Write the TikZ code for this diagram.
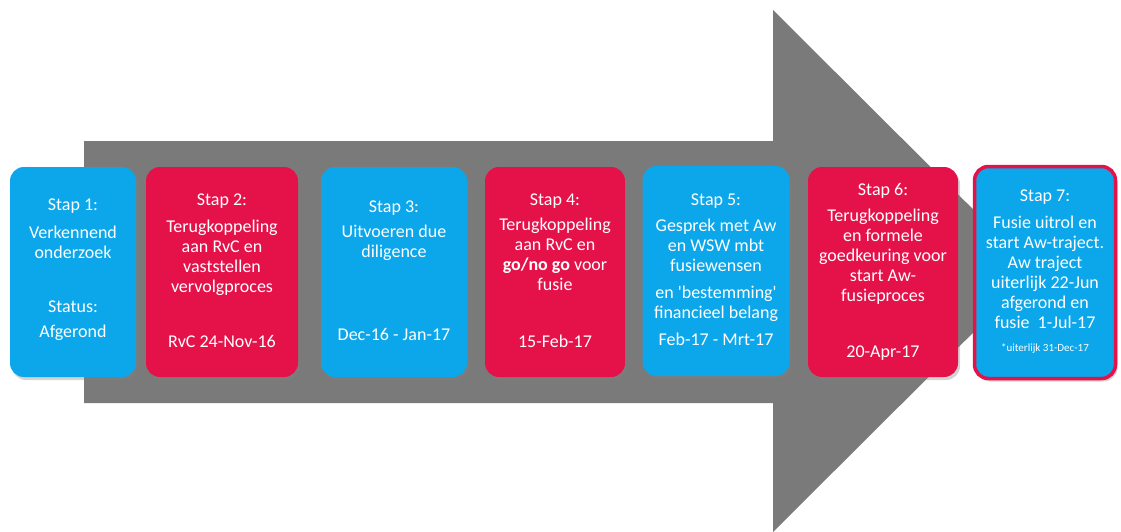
\documentclass[tikz,border=0pt]{standalone}
\usepackage{fontspec}
\setmainfont{Carlito}
\usetikzlibrary{shadows}
\definecolor{stepblue}{HTML}{0CA6EA}
\definecolor{stepred}{HTML}{E5124A}
\definecolor{arrowgray}{HTML}{7A7A7A}
\newcommand\topstrut{\rule{0pt}{14pt}}
\tikzset{
  stepbox/.style={rounded corners=14pt, inner sep=0pt, minimum width=#1,
    minimum height=210pt, draw=none,
    drop shadow={shadow xshift=2pt, shadow yshift=-3pt, opacity=0.35}},
  bluebox/.style={stepbox=#1, fill=stepblue},
  redbox/.style={stepbox=#1, fill=stepred},
  steptext/.style={text=white, align=center, anchor=north, inner sep=0pt,
    yshift=14pt, font=\fontsize{18}{20}\selectfont\topstrut},
}
\begin{document}
\begin{tikzpicture}[x=1pt,y=-1pt]
\useasboundingbox (0,0) rectangle (1121,532);
% big arrow
\fill[arrowgray] (84,141) -- (773,141) -- (773,10) -- (1035,271) -- (773,532) -- (773,403) -- (84,403) -- cycle;
% boxes
\node[bluebox=126pt] (b1) at (73,272) {};
\node[redbox=152pt]  (b2) at (222,272) {};
\node[bluebox=146pt] (b3) at (394,272) {};
\node[redbox=140pt]  (b4) at (555,272) {};
\node[bluebox=147pt] (b5) at (716,271) {};
\node[redbox=150pt]  (b6) at (883,272) {};
\node[stepbox=141pt, minimum height=212pt, fill=stepblue, draw=stepred, line width=3.5pt] (b7) at (1045,272.5) {};
% texts (position = baseline of first line)
\node[steptext] (t1a) at (73,213) {Stap 1:\\[8pt]Verkennend\\onderzoek};
\node[steptext] (t1b) at (73,315) {Status:\\[5pt]Afgerond};
\node[steptext] (t2a) at (222,208) {Stap 2:\\[7pt]Terugkoppeling\\aan RvC en\\vaststellen\\vervolgproces};
\node[steptext] (t2b) at (222,347) {RvC 24-Nov-16};
\node[steptext] (t3a) at (394,215) {Stap 3:\\[5pt]Uitvoeren due\\diligence};
\node[steptext] (t3b) at (394,340) {Dec-16 - Jan-17};
\node[steptext] (t4a) at (555,208) {Stap 4:\\[5pt]Terugkoppeling\\aan RvC en\\\textbf{go/no go} voor\\fusie};
\node[steptext] (t4b) at (555,347) {15-Feb-17};
\node[steptext] (t5a) at (716,208) {Stap 5:\\[6pt]Gesprek met Aw\\en WSW mbt\\fusiewensen\\[7pt]en \textquotesingle bestemming\textquotesingle\\financieel belang\\[7pt]Feb-17 - Mrt-17};
\node[steptext] (t6a) at (883,197) {Stap 6:\\[6pt]Terugkoppeling\\en formele\\goedkeuring voor\\start Aw-\\fusieproces};
\node[steptext] (t6b) at (883,357) {20-Apr-17};
\node[steptext] (t7a) at (1045,204) {Stap 7:\\[7pt]Fusie uitrol en\\start Aw-traject.\\Aw traject\\uiterlijk 22-Jun\\afgerond en\\fusie\ \ 1-Jul-17};
\node[steptext, yshift=-4pt, font=\fontsize{11}{13}\selectfont\rule{0pt}{10pt}] (t7b) at (1045,351) {*uiterlijk 31-Dec-17};
\end{tikzpicture}
\end{document}
